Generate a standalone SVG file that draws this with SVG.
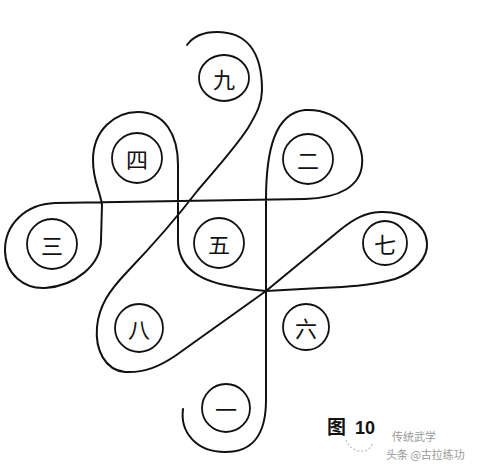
<svg xmlns="http://www.w3.org/2000/svg" width="484" height="472" viewBox="0 0 484 472">
<style>
.c{fill:none;stroke:#111;stroke-width:1.8}
.t{font-family:"Noto Sans CJK SC","Noto Sans CJK JP",sans-serif;font-size:22px;fill:#111;text-anchor:middle;dominant-baseline:central}
.path{fill:none;stroke:#111;stroke-width:2;stroke-linecap:round;stroke-linejoin:round}
.wm{font-family:"Noto Sans CJK SC",sans-serif;fill:#999;font-size:11px}
</style>
<rect width="484" height="472" fill="#fff"/>
<g id="connectors">
<path class="path" d="M183,409 C180,432 196,452 225,452 C255,452 266,432 266,400 L266,200 C266,150 275,113 305,110 C340,108 365,140 362,165 C360,186 340,198 305,199 L55,203 C25,204 5,225 5,250 C5,275 25,289 45,288 C75,286 101,265 101,240 L102,205 C100,190 93,182 93,160 C93,130 115,112 138,112 C165,112 178,135 178,165 L178,240 C178,265 195,280 230,286 C245,289 255,290 266,291 L320,288 C345,287 370,286 395,279 C415,272 428,258 427,243 C426,224 405,211 380,212 C365,213 355,218 340,230 L266,291 L175,356 C160,366 145,373 125,372 C105,370 95,350 97,327 C99,305 110,290 127,272 C150,248 175,220 198,190 C215,170 235,148 248,128 C257,113 262,103 262,90 C262,50 245,32 217,32 C200,32 192,38 187,45"/>
</g>
<g id="n9"><ellipse class="c" cx="224" cy="78" rx="25" ry="23"/><text class="t" x="224" y="78">九</text></g>
<g id="n4"><circle class="c" cx="137" cy="158" r="25"/><text class="t" x="137" y="158">四</text></g>
<g id="n2"><circle class="c" cx="308" cy="159" r="25"/><text class="t" x="308" y="159">二</text></g>
<g id="n3"><circle class="c" cx="52" cy="244" r="25"/><text class="t" x="52" y="244">三</text></g>
<g id="n5"><circle class="c" cx="219" cy="243" r="25"/><text class="t" x="219" y="243">五</text></g>
<g id="n7"><circle class="c" cx="385" cy="243" r="22"/><text class="t" x="385" y="243">七</text></g>
<g id="n8"><circle class="c" cx="139" cy="328" r="24"/><text class="t" x="139" y="328">八</text></g>
<g id="n6"><circle class="c" cx="306" cy="327" r="23"/><text class="t" x="306" y="327">六</text></g>
<g id="n1"><circle class="c" cx="226" cy="408" r="24"/><text class="t" x="226" y="408">一</text></g>
<g id="label">
<text x="327" y="434" font-family="Noto Sans CJK SC,sans-serif" font-size="19" font-weight="bold" fill="#111">图</text>
<text x="355" y="434" font-family="Liberation Sans,sans-serif" font-size="18" font-weight="bold" fill="#111">10</text>
<path d="M346,440 C350,452 368,456 372,444" fill="none" stroke="#bbb" stroke-width="1.2" stroke-dasharray="2 2"/>
<text class="wm" x="392" y="441" fill="#aaa">传统武学</text>
<text class="wm" x="386" y="459">头条 @古拉练功</text>
</g>
</svg>
